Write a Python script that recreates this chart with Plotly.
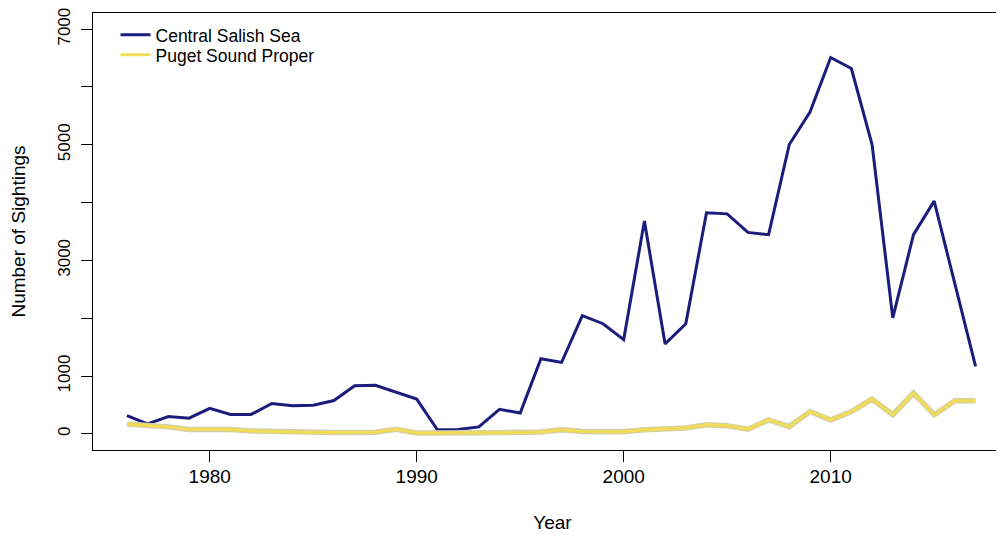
import plotly.graph_objects as go

years = list(range(1976, 2018))
central_salish = [315, 170, 300, 270, 440, 335, 335, 525, 485, 495,
                  575, 830, 840, 715, 600, 70, 75, 120, 425, 360,
                  1300, 1235, 2045, 1905, 1630, 3680, 1555, 1905, 3825, 3805,
                  3485, 3445, 5005, 5565, 6510, 6320, 5005, 2005, 3445, 4025,
                  2595, 1165]
puget_sound = [170, 150, 120, 75, 85, 75, 50, 40, 25, 22,
               22, 22, 28, 80, 15, 12, 12, 18, 20, 20,
               30, 70, 40, 35, 35, 70, 80, 100, 155, 140,
               80, 240, 125, 385, 240, 385, 600, 330, 705, 330,
               570, 570]
y_tickvals = [0, 1000, 2000, 3000, 4000, 5000, 6000, 7000]
y_ticktext = ["0", "1000", "", "3000", "", "5000", "", "7000"]
x_tickvals = [1980, 1990, 2000, 2010]

FONT = "Liberation Sans, Arial, Helvetica, sans-serif"

fig = go.Figure()
fig.add_trace(go.Scatter(x=years, y=central_salish, mode="lines",
                         name="Central Salish Sea", legend="legend",
                         line=dict(color="#1c1c7c", width=3)))
fig.add_trace(go.Scatter(x=years, y=puget_sound, mode="lines",
                         showlegend=False, hoverinfo="skip",
                         line=dict(color="#d6d0a8", width=5.5)))
fig.add_trace(go.Scatter(x=years, y=puget_sound, mode="lines",
                         name="Puget Sound Proper", legend="legend2",
                         line=dict(color="#f0dc55", width=3)))

leg_common = dict(xanchor="left", yanchor="middle",
                  bgcolor="rgba(0,0,0,0)", borderwidth=0,
                  font=dict(size=17.5, family=FONT))

fig.update_layout(
    width=1004, height=538,
    margin=dict(l=85, r=0, t=5, b=96),
    paper_bgcolor="white", plot_bgcolor="white",
    font=dict(family=FONT, color="black", size=19),
    showlegend=True,
    legend=dict(x=0.0245, y=0.9497, **leg_common),
    legend2=dict(x=0.0245, y=0.904, **leg_common),
    xaxis=dict(range=[1974.36, 2018.76], tickvals=x_tickvals, automargin=False,
               ticks="outside", ticklen=11, tickwidth=1, tickcolor="black",
               showline=True, linecolor="black", linewidth=1, mirror=True,
               showgrid=False, zeroline=False, ticklabelstandoff=-2,
               ticklabeloverflow="allow",
               tickfont=dict(size=19),
               title=dict(text="Year", font=dict(size=19), standoff=29)),
    yaxis=dict(range=[-280, 7280], tickvals=y_tickvals, ticktext=y_ticktext,
               tickangle=-90, automargin=False, ticklabelstandoff=4,
               ticklabeloverflow="allow",
               ticks="outside", ticklen=11, tickwidth=1, tickcolor="black",
               showline=True, linecolor="black", linewidth=1, mirror=True,
               showgrid=False, zeroline=False,
               tickfont=dict(size=17),
               title=dict(text="Number of Sightings", font=dict(size=19), standoff=26)),
)

fig.write_html("out.html")
